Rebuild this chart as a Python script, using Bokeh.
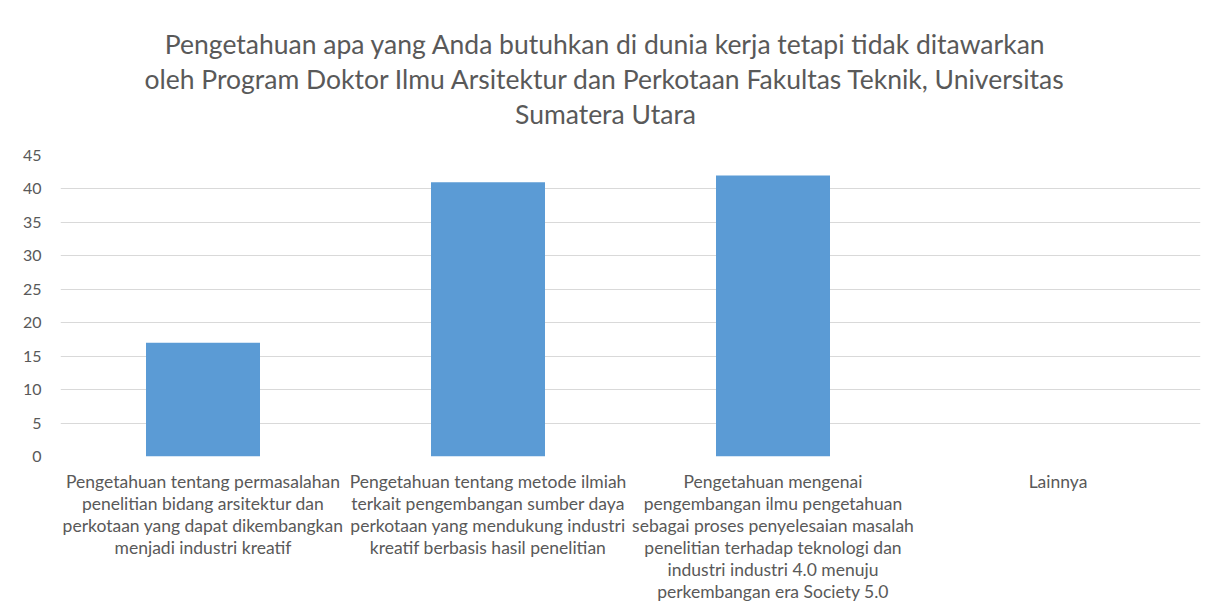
from bokeh.plotting import figure
from bokeh.models import FactorRange, Range1d, SingleIntervalTicker, ColumnDataSource, Title
from bokeh.embed import file_html
from bokeh.resources import INLINE

categories = [
    "Pengetahuan tentang permasalahan\npenelitian bidang arsitektur dan\nperkotaan yang dapat dikembangkan\nmenjadi industri kreatif",
    "Pengetahuan tentang metode ilmiah\nterkait pengembangan sumber daya\nperkotaan yang mendukung industri\nkreatif berbasis hasil penelitian",
    "Pengetahuan mengenai\npengembangan ilmu pengetahuan\nsebagai proses penyelesaian masalah\npenelitian terhadap teknologi dan\nindustri industri 4.0 menuju\nperkembangan era Society 5.0",
    "Lainnya",
]
values = [17, 41, 42, 0]
title_lines = [
    "Pengetahuan apa yang Anda butuhkan di dunia kerja tetapi tidak ditawarkan",
    "oleh Program Doktor Ilmu Arsitektur dan Perkotaan Fakultas Teknik, Universitas",
    "Sumatera Utara",
]

FONT = "Lato"
GREY = "#595959"

src = ColumnDataSource(dict(cat=categories, val=values))

p = figure(width=1203, height=614, x_range=FactorRange(*categories, range_padding=0),
           y_range=Range1d(0, 45), output_backend="svg", toolbar_location=None,
           min_border_left=60, min_border_right=3, min_border_bottom=158, min_border_top=155)

p.vbar(x="cat", top="val", width=0.4, source=src, color="#5B9BD5", line_color=None)

# spacer between plot area and title
p.add_layout(Title(text=" ", text_font=FONT, text_font_size="1px", standoff=22), "above")
# title lines, added bottom line first so the first line ends on top
for line in reversed(title_lines):
    t = Title(text=line, align="center", text_font=FONT, text_font_size="26.5px",
              text_font_style="normal", text_color=GREY,
              standoff=1, padding=(0, 50, 0, 0))
    p.add_layout(t, "above")

p.outline_line_color = None
p.xgrid.grid_line_color = None
p.ygrid.grid_line_color = "#d9d9d9"
p.ygrid.grid_line_width = 1

p.yaxis.ticker = SingleIntervalTicker(interval=5)
p.yaxis.axis_line_color = None
p.yaxis.major_tick_line_color = None
p.yaxis.minor_tick_line_color = None
p.yaxis.major_label_text_font = FONT
p.yaxis.major_label_text_font_size = "16px"
p.yaxis.major_label_text_color = GREY
p.yaxis.major_label_standoff = 13

p.xaxis.axis_line_color = None
p.xaxis.major_tick_line_color = None
p.xaxis.major_label_text_font = FONT
p.xaxis.major_label_text_font_size = "17.5px"
p.xaxis.major_label_text_color = GREY
p.xaxis.major_label_text_line_height = 1.05
p.xaxis.major_label_standoff = 8

open("out.html", "w").write(file_html(p, INLINE))
